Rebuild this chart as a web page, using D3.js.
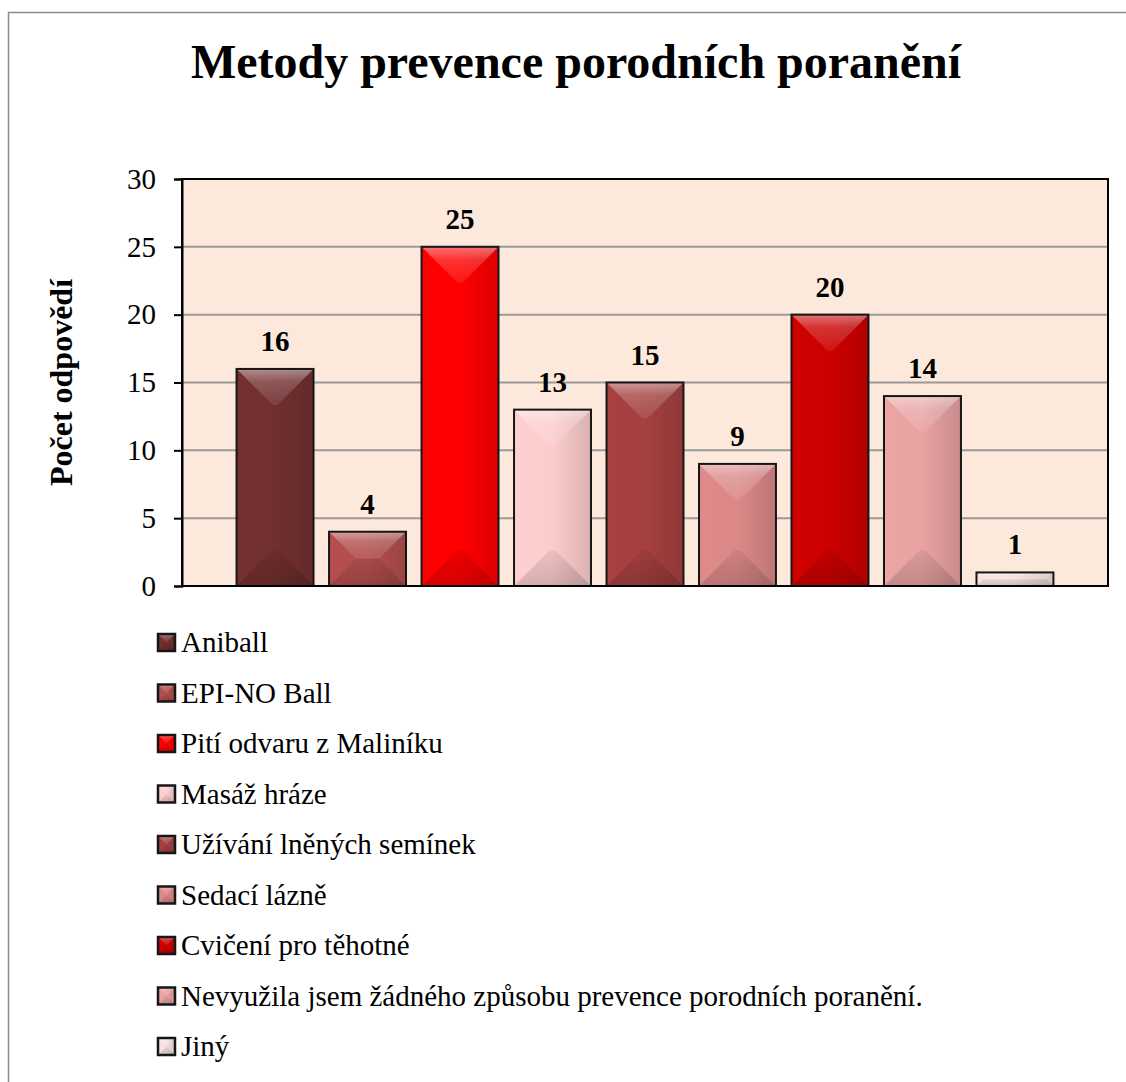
<!DOCTYPE html>
<html>
<head>
<meta charset="utf-8">
<script src="https://cdn.jsdelivr.net/npm/d3@7"></script>
<style>
  body { margin: 0; background: #fff; }
  svg { display: block; font-family: "Liberation Serif", "Times New Roman", serif; }
</style>
</head>
<body>
<svg id="chart"></svg>
<script>
// Chart data
const categories = [
    "Aniball",
    "EPI-NO Ball",
    "Pití odvaru z Maliníku",
    "Masáž hráze",
    "Užívání lněných semínek",
    "Sedací lázně",
    "Cvičení pro těhotné",
    "Nevyužila jsem žádného způsobu prevence porodních poranění.",
    "Jiný"
];
const values = [16, 4, 25, 13, 15, 9, 20, 14, 1];
const colors = ["#722f2f", "#b24e4e", "#ff0000", "#fccccc", "#a54040", "#dc8888", "#cc0000", "#e8a2a2", "#f4e0e0"];
const yTicks = [0, 5, 10, 15, 20, 25, 30];

const chartTitle = "Metody prevence porodních poranění";
const yLabel = "Počet odpovědí";

const W = 1126, H = 1082;
const plot = {left: 182, top: 179, right: 1108, bottom: 586};

const svg = d3.select("#chart")
    .attr("width", W)
    .attr("height", H);

// Outer frame (extends beyond the picture on right and bottom)
svg.append("path")
    .attr("d", `M8.5,${H + 5} L8.5,12.5 L${W + 5},12.5`)
    .attr("fill", "none")
    .attr("stroke", "#8c8c8c")
    .attr("stroke-width", 1.5);

// Title
svg.append("text")
    .attr("x", 576)
    .attr("y", 78)
    .attr("text-anchor", "middle")
    .attr("font-size", 48)
    .attr("font-weight", "bold")
    .text(chartTitle);

// Scales
const x = d3.scaleBand()
    .domain(d3.range(categories.length))
    .range([plot.left, plot.right])
    .paddingInner(0.168)
    .paddingOuter(0.59);

const y = d3.scaleLinear()
    .domain([0, 30])
    .range([plot.bottom, plot.top]);

// Plot background
svg.append("rect")
    .attr("x", plot.left)
    .attr("y", plot.top)
    .attr("width", plot.right - plot.left)
    .attr("height", plot.bottom - plot.top)
    .attr("fill", "#fde9db");

// Gridlines
svg.selectAll(".grid")
    .data(yTicks.filter(t => t > 0 && t < 30))
    .enter()
    .append("line")
    .attr("class", "grid")
    .attr("x1", plot.left)
    .attr("x2", plot.right)
    .attr("y1", d => y(d))
    .attr("y2", d => y(d))
    .attr("stroke", "#9a9a9a")
    .attr("stroke-width", 2);

// Gradients for bevel look
const defs = svg.append("defs");

function addGradients(i, color) {
    const c = d3.color(color);
    const side = defs.append("linearGradient")
        .attr("id", "side" + i)
        .attr("x1", 0).attr("x2", 1).attr("y1", 0).attr("y2", 0);
    side.append("stop").attr("offset", 0).attr("stop-color", c.brighter(0.05));
    side.append("stop").attr("offset", 0.5).attr("stop-color", c);
    side.append("stop").attr("offset", 1).attr("stop-color", c.darker(0.4));
}
colors.forEach((c, i) => addGradients(i, c));

const topGrad = defs.append("linearGradient")
    .attr("id", "topBevel")
    .attr("x1", 0).attr("x2", 0).attr("y1", 0).attr("y2", 1);
topGrad.append("stop").attr("offset", 0).attr("stop-color", "#fff").attr("stop-opacity", 0.45);
topGrad.append("stop").attr("offset", 0.35).attr("stop-color", "#fff").attr("stop-opacity", 0.2);
topGrad.append("stop").attr("offset", 1).attr("stop-color", "#fff").attr("stop-opacity", 0.08);

const botGrad = defs.append("linearGradient")
    .attr("id", "botBevel")
    .attr("x1", 0).attr("x2", 0).attr("y1", 0).attr("y2", 1);
botGrad.append("stop").attr("offset", 0).attr("stop-color", "#000").attr("stop-opacity", 0.06);
botGrad.append("stop").attr("offset", 1).attr("stop-color", "#000").attr("stop-opacity", 0.16);

function bevelBox(g, bx, by, bw, bh, i, maxDepth, strokeW) {
    const d = Math.min(bw / 2, bh / 2, maxDepth);
    g.append("rect")
        .attr("x", bx).attr("y", by)
        .attr("width", bw).attr("height", bh)
        .attr("fill", `url(#side${i})`);
    g.append("path")
        .attr("d", `M${bx},${by} L${bx + bw},${by} L${bx + bw - d},${by + d} L${bx + d},${by + d} Z`)
        .attr("fill", "url(#topBevel)");
    g.append("path")
        .attr("d", `M${bx},${by + bh} L${bx + bw},${by + bh} L${bx + bw - d},${by + bh - d} L${bx + d},${by + bh - d} Z`)
        .attr("fill", "url(#botBevel)");
    g.append("rect")
        .attr("x", bx).attr("y", by)
        .attr("width", bw).attr("height", bh)
        .attr("fill", "none")
        .attr("stroke", "#161616")
        .attr("stroke-width", strokeW);
}

// Bars
values.forEach((v, i) => {
    const g = svg.append("g").attr("class", "bar");
    bevelBox(g, x(i), y(v), x.bandwidth(), y(0) - y(v), i, 36, 2);
});

// Value labels
svg.selectAll(".value")
    .data(values)
    .enter()
    .append("text")
    .attr("class", "value")
    .attr("x", (d, i) => x(i) + x.bandwidth() / 2)
    .attr("y", d => y(d) - 18)
    .attr("text-anchor", "middle")
    .attr("font-size", 29)
    .attr("font-weight", "bold")
    .text(d => d);

// Plot border: top, right, bottom, left axis
svg.append("rect")
    .attr("x", plot.left)
    .attr("y", plot.top)
    .attr("width", plot.right - plot.left)
    .attr("height", plot.bottom - plot.top)
    .attr("fill", "none")
    .attr("stroke", "#000")
    .attr("stroke-width", 2);

// Y axis
const yAxis = svg.append("g")
    .attr("transform", `translate(${plot.left},0)`)
    .call(d3.axisLeft(y).tickValues(yTicks).tickSize(8).tickPadding(18));
yAxis.select(".domain").attr("stroke", "#000").attr("stroke-width", 2);
yAxis.selectAll(".tick line").attr("stroke", "#000").attr("stroke-width", 2);
yAxis.selectAll(".tick text")
    .attr("font-family", "Liberation Serif, Times New Roman, serif")
    .attr("font-size", 29)
    .attr("fill", "#000");

// Y label
svg.append("text")
    .attr("transform", `translate(72, ${(plot.top + plot.bottom) / 2}) rotate(-90)`)
    .attr("text-anchor", "middle")
    .attr("font-size", 32)
    .attr("font-weight", "bold")
    .text(yLabel);

// Legend
const legend = svg.append("g")
    .attr("class", "legend")
    .attr("transform", "translate(157, 642)");

categories.forEach((label, i) => {
    const item = legend.append("g")
        .attr("transform", `translate(0, ${i * 50.5})`);
    bevelBox(item, 1, -8, 17, 17, i, 8.5, 2.5);
    item.append("text")
        .attr("x", 24)
        .attr("y", 10)
        .attr("font-size", 29)
        .text(label);
});
</script>
</body>
</html>
